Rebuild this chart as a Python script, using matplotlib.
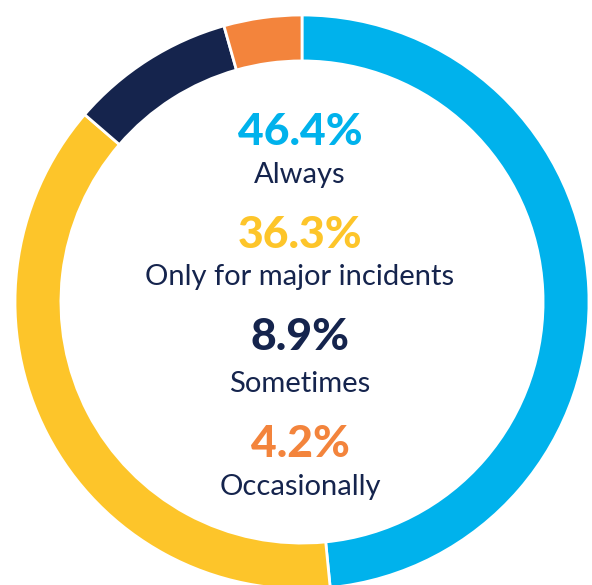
import matplotlib
matplotlib.use("Agg")
import matplotlib.pyplot as plt

# answer shares (%)
labels = ["Always", "Only for major incidents", "Sometimes", "Occasionally"]
values = [46.4, 36.3, 8.9, 4.2]
colors = ["#00B2EC", "#FDC52A", "#15244D", "#F3843C"]
pct_text = ["46.4%", "36.3%", "8.9%", "4.2%"]

W, H = 592, 585
cx, cy, R = 302, 302, 287   # ring centre / radius in pixels

fig = plt.figure(figsize=(W / 100, H / 100), dpi=100)
ax = fig.add_axes([0, 0, 1, 1])

ax.pie(values, colors=colors, startangle=90, counterclock=False, radius=1,
       wedgeprops=dict(width=0.16, edgecolor="white", linewidth=2))
ax.set_aspect("auto")
ax.set_xlim(-cx / R, (W - cx) / R)
ax.set_ylim((cy - H) / R, cy / R)
ax.axis("off")

# text block in the middle (baselines in pixels from top)
num_base = [145, 248, 350, 457]
lab_base = [183, 285, 392, 495]
for i in range(len(labels)):
    fig.text(300 / W, 1 - num_base[i] / H, pct_text[i], color=colors[i],
             fontsize=32, fontweight="black", family="Lato",
             ha="center", va="baseline")
    fig.text(300 / W, 1 - lab_base[i] / H, labels[i], color="#15244D",
             fontsize=21, family="Lato", ha="center", va="baseline")

fig.savefig("out.png", dpi=100)
